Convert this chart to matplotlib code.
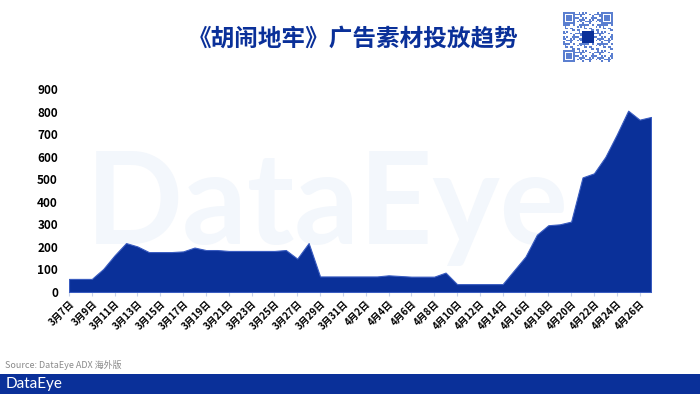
"""《胡闹地牢》广告素材投放趋势 -- 面积图复刻。"""

import numpy as np
import pandas as pd
import matplotlib
matplotlib.use('Agg')
import matplotlib.pyplot as plt
from matplotlib.patches import Rectangle

plt.rcParams['font.family'] = ['Noto Sans CJK SC', 'DejaVu Sans']

# 数据：3月7日 -- 4月27日，每日素材数
dates = pd.date_range('2024-03-07', '2024-04-27', freq='D')
date_labels = [f'{d.month}月{d.day}日' for d in dates]
march_values = [58, 58, 58, 102, 163, 217, 202, 177, 177, 177, 180, 197, 186,
                186, 182, 182, 182, 182, 182, 186, 148, 217, 69, 69, 69]
april_values = [69, 69, 69, 74, 71, 68, 68, 68, 86, 35, 35, 35, 35, 35, 96,
                157, 254, 296, 300, 312, 508, 526, 599, 698, 804, 764, 776]
values = march_values + april_values
y_ticks = [0, 100, 200, 300, 400, 500, 600, 700, 800, 900]

TITLE = '《胡闹地牢》广告素材投放趋势'
SOURCE = 'Source: DataEye ADX 海外版'
BLUE = '#0a3099'

W, H = 700, 394
fig = plt.figure(figsize=(W / 100, H / 100), dpi=100)
fig.patch.set_facecolor('white')

# 主图
ax = fig.add_axes([69 / W, (H - 292) / H, (651 - 69) / W, (292 - 89) / H])
ax.patch.set_visible(False)
x = np.arange(len(values))
ax.fill_between(x, values, 0, color=BLUE, linewidth=0.8, edgecolor='#3a5cc0', zorder=3)
ax.set_xlim(0, len(values) - 1)
ax.set_ylim(0, 900)
ax.set_yticks(y_ticks)
ax.set_yticklabels([str(v) for v in y_ticks], fontsize=8.5, fontweight='bold')
ax.set_xticks(x[::2])
ax.set_xticklabels(date_labels[::2], rotation=45, ha='right', rotation_mode='anchor',
                   fontsize=7, fontweight='bold')
for side in ['top', 'right', 'left']:
    ax.spines[side].set_visible(False)
ax.spines['bottom'].set_color('#c8d3ea')
ax.tick_params(axis='y', length=0, pad=8)
ax.tick_params(axis='x', length=3, color='#c8d3ea', pad=2)

# 水印（放在面积下面）
ax.text(86 / W, (H - 244) / H, 'DataEye', family='Lato', fontweight='bold',
        fontsize=92, color='#f3f7fc', ha='left', va='baseline', zorder=1,
        transform=fig.transFigure, clip_on=False)

# 标题
fig.text(353 / W, (H - 38) / H, TITLE, fontsize=17, fontweight='bold',
         color=BLUE, ha='center', va='center')

# 二维码（装饰）
n = 29
ii, jj = np.mgrid[0:n, 0:n]
qr = ((ii * ii * 31 + jj * jj * 17 + ii * jj * 7 + ii * 3) % 11 < 5).astype(float)
for r0, c0 in [(0, 0), (0, n - 7), (n - 7, 0)]:
    qr[r0:r0 + 7, c0:c0 + 7] = 0
    qr[r0:r0 + 7, c0] = qr[r0:r0 + 7, c0 + 6] = 1
    qr[r0, c0:c0 + 7] = qr[r0 + 6, c0:c0 + 7] = 1
    qr[r0 + 2:r0 + 5, c0 + 2:c0 + 5] = 1
qr[11:18, 11:18] = 2
qax = fig.add_axes([563 / W, (H - 62) / H, 50 / W, 50 / H])
qax.imshow(qr, cmap=matplotlib.colors.ListedColormap(['white', '#5b7fd0', '#0a3099']),
           interpolation='nearest', aspect='auto')
qax.axis('off')

# 来源与底部色条
fig.text(5 / W, (H - 365) / H, SOURCE, fontsize=6.5, color='#8a8a8a',
         ha='left', va='center')
fig.patches.append(Rectangle((0, 0), 1, 20 / H, transform=fig.transFigure,
                             facecolor=BLUE, edgecolor='none', zorder=0))
fig.text(6 / W, 10 / H, 'DataEye', family='Lato', fontsize=11, color='white',
         ha='left', va='center')

fig.savefig('out.png', dpi=100)
